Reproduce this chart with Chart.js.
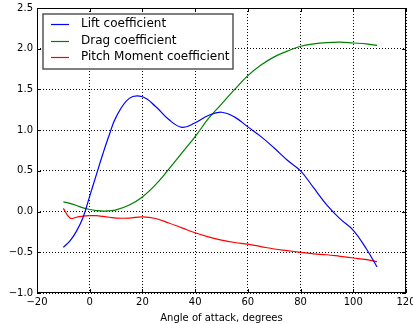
<!DOCTYPE html>
<html>
<head>
<meta charset="utf-8">
<script src="https://cdn.jsdelivr.net/npm/chart.js@4"></script>
<style>
  html, body { margin: 0; padding: 0; background: #fff; }
  canvas { display: block; }
</style>
</head>
<body>
<canvas id="chart" width="413" height="324"></canvas>
<script>
// angle of attack (degrees) and the three coefficients
const angles = [-10, -7.5, -5, -2.5, 0, 2.5, 5, 7.5, 10, 15, 20, 25, 30, 35, 40, 45, 50, 55, 60, 65, 70, 75, 80, 85, 90, 95, 100, 105, 109];
const lift   = [-0.44, -0.36, -0.24, -0.07, 0.19, 0.45, 0.71, 0.95, 1.16, 1.39, 1.41, 1.29, 1.13, 1.035, 1.09, 1.18, 1.22, 1.16, 1.04, 0.92, 0.78, 0.63, 0.50, 0.29, 0.08, -0.09, -0.23, -0.46, -0.68];
const drag   = [0.12, 0.10, 0.075, 0.045, 0.025, 0.012, 0.005, 0.01, 0.02, 0.08, 0.18, 0.33, 0.52, 0.72, 0.92, 1.14, 1.32, 1.50, 1.67, 1.80, 1.90, 1.97, 2.03, 2.06, 2.075, 2.08, 2.07, 2.06, 2.04];
const pitch  = [0.04, -0.08, -0.07, -0.055, -0.05, -0.05, -0.06, -0.07, -0.08, -0.08, -0.065, -0.085, -0.14, -0.20, -0.26, -0.31, -0.35, -0.38, -0.40, -0.43, -0.46, -0.48, -0.50, -0.52, -0.53, -0.55, -0.57, -0.59, -0.615];

const seriesNames = ['Lift coefficient', 'Drag coefficient', 'Pitch Moment coefficient'];
const seriesColors = ['#0000ff', '#008000', '#ff0000'];

const FONT = 'DejaVu Sans';

function minus(s) {
  return String(s).replace('-', '\u2212');
}

function toPoints(ys) {
  return angles.map((a, i) => ({ x: a, y: ys[i] }));
}

// frame, inward ticks and the boxed legend like matplotlib's classic style
const mplBits = {
  id: 'mplBits',
  afterDatasetsDraw(chart) {
    const ctx = chart.ctx;
    const a = chart.chartArea;
    const xs = chart.scales.x, ys = chart.scales.y;
    ctx.save();
    ctx.strokeStyle = '#000';
    ctx.lineWidth = 1;
    ctx.beginPath();
    xs.ticks.forEach(t => {
      const px = Math.round(xs.getPixelForValue(t.value)) + 0.5;
      ctx.moveTo(px, a.bottom); ctx.lineTo(px, a.bottom - 4);
      ctx.moveTo(px, a.top); ctx.lineTo(px, a.top + 4);
    });
    ys.ticks.forEach(t => {
      const py = Math.round(ys.getPixelForValue(t.value)) + 0.5;
      ctx.moveTo(a.left, py); ctx.lineTo(a.left + 4, py);
      ctx.moveTo(a.right, py); ctx.lineTo(a.right - 4, py);
    });
    ctx.stroke();
    ctx.strokeRect(Math.round(a.left) + 0.5, Math.round(a.top) + 0.5,
      Math.round(a.right - a.left) - 1, Math.round(a.bottom - a.top) - 1);

    // legend
    const lx = a.left + 6, ly = a.top + 6, lw = 190, lh = 55;
    ctx.fillStyle = '#fff';
    ctx.fillRect(lx, ly, lw, lh);
    ctx.strokeStyle = '#555';
    ctx.lineWidth = 1.5;
    ctx.strokeRect(lx, ly, lw, lh);
    ctx.font = '12px "' + FONT + '"';
    ctx.textBaseline = 'middle';
    ctx.textAlign = 'left';
    seriesNames.forEach((name, i) => {
      const cy = Math.round(ly + 10 + i * 16.7);
      ctx.strokeStyle = seriesColors[i];
      ctx.lineWidth = 1.2;
      ctx.beginPath();
      ctx.moveTo(lx + 8, cy + 0.5);
      ctx.lineTo(lx + 26, cy + 0.5);
      ctx.stroke();
      ctx.fillStyle = '#000';
      ctx.fillText(name, lx + 38, cy);
    });
    ctx.restore();
  }
};

const tickFont = { family: FONT, size: 10 };

new Chart(document.getElementById('chart'), {
  type: 'line',
  data: {
    datasets: [lift, drag, pitch].map((ys, i) => ({
      label: seriesNames[i],
      data: toPoints(ys),
      borderColor: seriesColors[i],
      backgroundColor: seriesColors[i],
      borderWidth: 1.2,
      pointRadius: 0,
      tension: 0.4,
      fill: false
    }))
  },
  options: {
    responsive: false,
    animation: false,
    layout: { padding: { top: 8, right: 7, left: 0, bottom: 0 } },
    plugins: { legend: { display: false }, tooltip: { enabled: false } },
    scales: {
      x: {
        type: 'linear',
        min: -20, max: 120,
        ticks: { stepSize: 20, color: '#000', font: tickFont, padding: 3, maxRotation: 0,
          callback: v => minus(v) },
        grid: { color: '#000', lineWidth: 1, drawTicks: false },
        border: { display: false, dash: [1, 2] },
        title: { display: true, text: 'Angle of attack, degrees', color: '#000',
          font: { family: FONT, size: 10 }, padding: { top: 2, bottom: 0 } },
        afterFit(s) { s.height = 31; s.paddingLeft = 0; s.paddingRight = 0; }
      },
      y: {
        min: -1, max: 2.5,
        ticks: { stepSize: 0.5, color: '#000', font: tickFont, padding: 4,
          callback: v => minus(v.toFixed(1)) },
        grid: { color: '#000', lineWidth: 1, drawTicks: false },
        border: { display: false, dash: [1, 2] },
        afterFit(s) { s.width = 37; s.paddingTop = 0; s.paddingBottom = 0; }
      }
    }
  },
  plugins: [mplBits]
});
</script>
</body>
</html>
